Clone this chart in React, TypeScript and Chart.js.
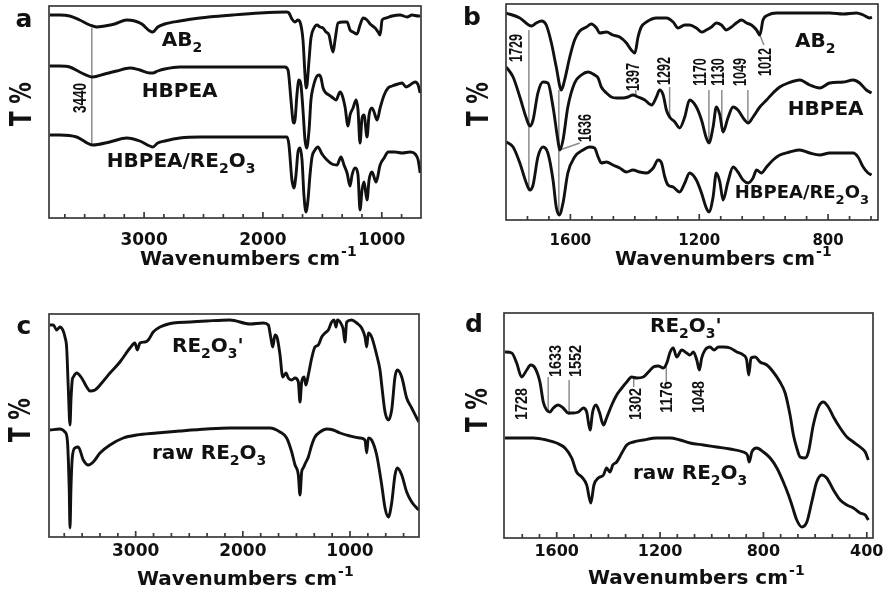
import React, { useEffect, useRef } from 'react';
import { Chart, registerables } from 'chart.js';
Chart.register(...registerables);

type P = [number, number];

// ---------- Panel a (wavenumber, relative transmittance) ----------
const aAB2: P[] = [[3794,203],[3710,203],[3626,202],[3542,198],[3457,193],[3399,191],[3331,192],[3247,194],[3146,198],[3078,197],[3019,194],[2952,187],[2927,186],[2885,191],[2826,194],[2699,197],[2531,200],[2253,203],[2025,205],[1798,206],[1781,205],[1756,199],[1730,196],[1705,198],[1688,196],[1663,178],[1646,143],[1638,130],[1629,133],[1612,158],[1596,180],[1570,190],[1545,193],[1520,191],[1494,190],[1469,186],[1444,183],[1427,173],[1410,166],[1393,178],[1368,195],[1326,196],[1292,196],[1267,188],[1242,186],[1208,184],[1183,193],[1157,200],[1124,198],[1098,194],[1056,190],[1031,186],[1014,183],[997,198],[964,200],[913,202],[846,203],[787,201],[745,203],[694,202],[677,202]];
const aHBPEA: P[] = [[3794,152],[3710,152],[3626,151],[3542,146],[3432,141],[3331,144],[3230,147],[3120,150],[3036,148],[2952,145],[2927,145],[2885,147],[2826,149],[2699,151],[2531,151],[2110,151],[1815,151],[1789,148],[1764,118],[1747,97],[1737,95],[1728,100],[1714,123],[1697,138],[1680,133],[1663,108],[1646,78],[1632,70],[1612,88],[1596,118],[1579,130],[1545,142],[1528,143],[1511,140],[1494,130],[1469,125],[1444,123],[1410,120],[1385,118],[1351,126],[1334,123],[1309,111],[1284,92],[1267,103],[1242,110],[1216,118],[1200,108],[1183,75],[1166,100],[1149,103],[1124,81],[1107,103],[1082,110],[1065,106],[1039,98],[1014,110],[980,123],[947,130],[913,132],[863,134],[829,135],[795,131],[762,133],[719,136],[694,133],[677,125]];
const aHBPEA_RE: P[] = [[3794,83],[3710,83],[3567,81],[3432,73],[3289,76],[3146,80],[3036,77],[2952,72],[2927,71],[2885,75],[2826,77],[2699,80],[2531,81],[2110,81],[1798,81],[1781,73],[1756,38],[1739,30],[1722,43],[1705,66],[1688,70],[1671,58],[1655,23],[1638,6],[1621,18],[1604,43],[1587,61],[1562,68],[1537,71],[1503,64],[1461,58],[1419,54],[1377,53],[1343,61],[1318,53],[1292,45],[1267,32],[1250,43],[1225,50],[1200,43],[1183,8],[1166,28],[1149,36],[1124,18],[1107,38],[1082,46],[1048,36],[1014,53],[980,60],[947,66],[888,66],[829,65],[762,66],[719,64],[694,58],[677,45]];

// ---------- Panel b ----------
const bAB2: P[] = [[1799,207],[1757,202],[1721,194],[1706,197],[1690,199],[1675,195],[1659,177],[1644,153],[1628,130],[1618,140],[1602,163],[1587,180],[1571,189],[1550,193],[1535,196],[1519,192],[1509,187],[1488,188],[1468,185],[1447,183],[1426,177],[1411,170],[1400,167],[1390,183],[1380,193],[1364,198],[1333,202],[1302,202],[1281,198],[1266,192],[1245,195],[1230,195],[1209,192],[1193,188],[1178,190],[1162,193],[1147,197],[1131,195],[1116,190],[1100,193],[1085,197],[1069,200],[1053,197],[1038,195],[1022,190],[1012,185],[1002,200],[986,205],[960,207],[919,207],[878,207],[836,207],[795,207],[753,206],[712,207],[691,205],[671,202],[664,203]];
const bHBPEA: P[] = [[1799,153],[1778,143],[1757,123],[1737,102],[1726,94],[1716,100],[1701,127],[1685,138],[1670,137],[1654,113],[1639,80],[1633,70],[1623,80],[1608,113],[1587,137],[1566,145],[1545,148],[1525,145],[1514,142],[1504,133],[1488,127],[1473,123],[1457,122],[1437,122],[1421,123],[1406,125],[1390,123],[1369,120],[1348,115],[1333,123],[1323,130],[1312,125],[1302,110],[1292,103],[1276,98],[1261,92],[1245,103],[1230,120],[1209,113],[1193,100],[1178,82],[1170,77],[1157,93],[1147,113],[1136,105],[1126,88],[1111,102],[1095,113],[1080,110],[1059,100],[1048,97],[1033,103],[1012,113],[991,120],[971,127],[950,133],[924,137],[888,140],[857,135],[826,132],[795,137],[753,138],[722,140],[702,137],[681,130],[665,127]];
const bHBPEA_RE: P[] = [[1799,78],[1778,73],[1757,57],[1737,37],[1726,30],[1716,35],[1701,63],[1685,73],[1670,67],[1654,40],[1644,13],[1635,5],[1623,17],[1608,47],[1587,63],[1561,70],[1540,73],[1525,72],[1514,63],[1504,57],[1488,58],[1468,55],[1447,52],[1426,48],[1406,50],[1385,48],[1364,47],[1343,52],[1328,60],[1317,57],[1307,43],[1297,35],[1281,33],[1261,28],[1245,37],[1230,47],[1209,40],[1193,27],[1178,12],[1170,8],[1157,23],[1147,47],[1136,38],[1126,20],[1111,38],[1095,53],[1080,48],[1064,40],[1048,37],[1033,42],[1022,50],[1007,47],[991,53],[971,60],[950,65],[919,68],[888,70],[857,67],[826,65],[795,67],[753,67],[722,67],[707,63],[691,53],[676,47],[665,45]];

// ---------- Panel c ----------
const cRE: P[] = [[3800,212],[3769,212],[3737,207],[3707,210],[3676,206],[3660,200],[3644,189],[3629,149],[3613,112],[3604,137],[3592,157],[3582,160],[3551,164],[3504,159],[3457,150],[3427,146],[3380,147],[3317,154],[3240,164],[3147,175],[3053,189],[3007,194],[2985,187],[2960,194],[2913,195],[2882,197],[2836,205],[2773,210],[2649,214],[2493,215],[2337,216],[2120,217],[1933,213],[1809,214],[1762,212],[1740,200],[1721,190],[1700,202],[1679,199],[1653,182],[1628,160],[1597,164],[1576,159],[1544,157],[1513,159],[1482,155],[1467,135],[1451,155],[1429,160],[1411,152],[1389,162],[1357,179],[1327,190],[1296,192],[1264,200],[1233,204],[1202,207],[1171,215],[1149,217],[1130,210],[1118,217],[1077,212],[1062,207],[1047,195],[1031,215],[984,217],[937,214],[891,209],[860,200],[844,190],[829,204],[798,200],[751,182],[720,167],[704,152],[673,125],[642,117],[611,127],[580,160],[558,167],[517,160],[471,139],[424,129],[377,119],[356,115]];
const cRaw: P[] = [[3800,107],[3707,108],[3660,105],[3638,97],[3620,47],[3613,9],[3604,49],[3592,79],[3567,89],[3536,90],[3489,77],[3442,72],[3396,75],[3333,84],[3240,92],[3116,99],[2991,102],[2804,104],[2587,106],[2337,108],[2120,109],[1933,109],[1747,109],[1653,105],[1591,99],[1544,85],[1513,72],[1482,62],[1467,42],[1451,65],[1436,69],[1411,75],[1389,80],[1357,92],[1327,100],[1280,105],[1217,108],[1156,107],[1093,104],[1000,101],[907,99],[860,97],[844,84],[829,99],[798,97],[751,82],[704,52],[673,29],[642,20],[611,34],[580,62],[558,69],[517,62],[471,45],[424,35],[377,29],[356,27]];

// ---------- Panel d ----------
const dRE: P[] = [[1800,186],[1774,185],[1755,175],[1736,161],[1716,168],[1701,173],[1684,170],[1665,156],[1652,136],[1639,128],[1626,126],[1613,130],[1594,133],[1575,130],[1555,125],[1536,125],[1516,126],[1497,130],[1484,126],[1471,108],[1461,126],[1448,133],[1435,126],[1419,113],[1407,120],[1387,133],[1368,143],[1348,150],[1329,156],[1310,161],[1290,160],[1265,161],[1245,166],[1226,171],[1207,172],[1187,170],[1174,175],[1161,186],[1149,190],[1136,181],[1116,188],[1097,185],[1084,183],[1071,186],[1058,178],[1048,168],[1039,180],[1026,188],[1007,191],[991,188],[974,191],[955,191],[929,190],[903,186],[878,183],[865,178],[857,163],[848,180],[832,181],[813,176],[787,173],[762,166],[736,156],[716,145],[697,123],[684,103],[671,90],[658,81],[639,80],[626,86],[607,113],[587,131],[568,136],[549,131],[529,121],[503,110],[477,101],[452,96],[426,91],[406,86],[394,78]];
const dRaw: P[] = [[1800,100],[1742,100],[1691,100],[1639,98],[1600,95],[1568,90],[1542,80],[1523,66],[1503,61],[1484,53],[1468,35],[1456,53],[1439,60],[1419,63],[1407,70],[1394,66],[1383,73],[1368,76],[1348,85],[1329,93],[1303,96],[1265,98],[1213,100],[1161,100],[1123,98],[1084,95],[1033,93],[981,91],[929,89],[878,86],[862,83],[855,76],[845,86],[826,90],[800,86],[774,80],[748,70],[723,56],[703,43],[690,33],[671,18],[652,11],[632,16],[613,36],[594,56],[574,63],[555,60],[529,48],[503,38],[477,33],[452,30],[426,25],[406,23],[394,18]];

// ---------- layout / decoration config ----------
interface Ann { text: string; at: P; lines?: [number, number, number, number][] }
interface CurveLabel { text: string; at: P; size: number }
interface Panel {
  letter: string; left: number; top: number; width: number; height: number;
  frame: [number, number, number, number];
  xMin: number; xMax: number; major: number; yMax: number;
  series: P[][]; labels: CurveLabel[]; anns: Ann[]; annSize: number; annScale: number;
  tickPad: number; tickSize: number; titleAt: P; tAt: P; letterAt: P;
}

const PANELS: Panel[] = [
  {
    letter: 'a', left: 0, top: 0, width: 445, height: 290, frame: [49, 6, 421, 218],
    xMin: 670, xMax: 3800, major: 1000, yMax: 212,
    series: [aAB2, aHBPEA, aHBPEA_RE],
    labels: [
      { text: 'AB_2', at: [2851, 179], size: 20 },
      { text: 'HBPEA', at: [3019, 128], size: 20 },
      { text: 'HBPEA/RE_2O_3', at: [3314, 58], size: 20 },
    ],
    anns: [{ text: '3440', at: [3542, 120], lines: [[3440, 190, 3440, 73]] }],
    annSize: 18, annScale: 0.75,
    tickPad: 12, tickSize: 17, titleAt: [140, 258], tAt: [22, 104], letterAt: [24, 20],
  },
  {
    letter: 'b', left: 445, top: 0, width: 446, height: 290, frame: [506, 4, 878, 220],
    xMin: 645, xMax: 1800, major: 400, yMax: 216,
    series: [bAB2, bHBPEA, bHBPEA_RE],
    labels: [
      { text: 'AB_2', at: [903, 180], size: 20 },
      { text: 'HBPEA', at: [925, 112], size: 20 },
      { text: 'HBPEA/RE_2O_3', at: [1090, 28], size: 18 },
    ],
    anns: [
      { text: '1729', at: [1768, 172], lines: [[1729, 190, 1729, 30]] },
      { text: '1636', at: [1556, 92], lines: [[1636, 130, 1636, 5], [1633, 70, 1571, 77]] },
      { text: '1397', at: [1406, 143], lines: [[1397, 130, 1397, 123]] },
      { text: '1292', at: [1310, 149], lines: [[1292, 133, 1292, 103]] },
      { text: '1170', at: [1198, 148], lines: [[1170, 130, 1170, 77]] },
      { text: '1130', at: [1142, 148], lines: [[1130, 130, 1130, 88]] },
      { text: '1049', at: [1074, 148], lines: [[1049, 130, 1049, 98]] },
      { text: '1012', at: [997, 158], lines: [[1012, 185, 999, 175]] },
    ],
    annSize: 18, annScale: 0.7,
    tickPad: 12, tickSize: 15, titleAt: [615, 258], tAt: [479, 104], letterAt: [472, 18],
  },
  {
    letter: 'c', left: 0, top: 290, width: 445, height: 301, frame: [49, 314, 419, 537],
    xMin: 356, xMax: 3809, major: 1000, yMax: 223,
    series: [cRE, cRaw],
    labels: [
      { text: "RE_2O_3'", at: [2661, 192], size: 20 },
      { text: 'raw RE_2O_3', at: [2848, 85], size: 20 },
    ],
    anns: [], annSize: 17, annScale: 0.85,
    tickPad: 4, tickSize: 17, titleAt: [137, 578], tAt: [21, 420], letterAt: [24, 327],
  },
  {
    letter: 'd', left: 445, top: 290, width: 446, height: 301, frame: [504, 313, 873, 538],
    xMin: 376, xMax: 1804, major: 400, yMax: 225,
    series: [dRE, dRaw],
    labels: [
      { text: "RE_2O_3'", at: [1239, 213], size: 20 },
      { text: 'raw RE_2O_3', at: [1305, 66], size: 20 },
    ],
    anns: [
      { text: '1728', at: [1736, 134] },
      { text: '1633', at: [1607, 177], lines: [[1633, 161, 1633, 126]] },
      { text: '1552', at: [1529, 177], lines: [[1552, 158, 1552, 123]] },
      { text: '1302', at: [1297, 134], lines: [[1302, 161, 1302, 151]] },
      { text: '1176', at: [1174, 141], lines: [[1176, 175, 1176, 156]] },
      { text: '1048', at: [1052, 141] },
    ],
    annSize: 17, annScale: 0.85,
    tickPad: 4, tickSize: 16, titleAt: [588, 577], tAt: [478, 410], letterAt: [474, 325],
  },
];

const FONT = '"DejaVu Sans", "Liberation Sans", sans-serif';
const XH = 40;

function richParts(s: string) {
  const parts: { t: string; sub: boolean }[] = [];
  for (let i = 0; i < s.length; i++) {
    if (s[i] === '_' && i + 1 < s.length) { parts.push({ t: s[i + 1], sub: true }); i++; }
    else {
      const last = parts[parts.length - 1];
      if (last && !last.sub) last.t += s[i]; else parts.push({ t: s[i], sub: false });
    }
  }
  return parts;
}

function drawRich(ctx: CanvasRenderingContext2D, s: string, x: number, cy: number, size: number) {
  const parts = richParts(s);
  const base = cy + size * 0.36;
  const sub = Math.round(size * 0.7);
  let cx = x;
  ctx.textAlign = 'left';
  ctx.textBaseline = 'alphabetic';
  for (const p of parts) {
    ctx.font = `bold ${p.sub ? sub : size}px ${FONT}`;
    ctx.fillText(p.t, cx, p.sub ? base + size * 0.28 : base);
    cx += ctx.measureText(p.t).width;
  }
}

function isMajor(v: number, major: number) {
  return Math.abs(v / major - Math.round(v / major)) < 1e-6;
}

function makeDeco(p: Panel) {
  return {
    id: 'deco_' + p.letter,
    beforeDatasetsDraw(chart: any) {
      const ctx: CanvasRenderingContext2D = chart.ctx;
      const xs = chart.scales.x, ys = chart.scales.y;
      ctx.save();
      ctx.strokeStyle = '#8c8c8c';
      ctx.lineWidth = 1.5;
      for (const a of p.anns) {
        for (const l of a.lines || []) {
          ctx.beginPath();
          ctx.moveTo(xs.getPixelForValue(l[0]), ys.getPixelForValue(l[1]));
          ctx.lineTo(xs.getPixelForValue(l[2]), ys.getPixelForValue(l[3]));
          ctx.stroke();
        }
      }
      ctx.restore();
    },
    afterDraw(chart: any) {
      const ctx: CanvasRenderingContext2D = chart.ctx;
      const { left, right, top, bottom } = chart.chartArea;
      const xs = chart.scales.x, ys = chart.scales.y;
      const ox = p.left, oy = p.top;
      ctx.save();
      ctx.strokeStyle = '#3a3a3a';
      ctx.lineWidth = 1.7;
      ctx.strokeRect(left, top, right - left, bottom - top);
      ctx.beginPath();
      for (const t of xs.ticks) {
        const px = xs.getPixelForValue(t.value);
        if (px <= left + 2 || px >= right - 2) continue;
        const len = isMajor(t.value, p.major) ? 6 : 4;
        ctx.moveTo(px, bottom);
        ctx.lineTo(px, bottom - len);
      }
      ctx.stroke();
      ctx.fillStyle = '#111';
      for (const l of p.labels) {
        drawRich(ctx, l.text, xs.getPixelForValue(l.at[0]), ys.getPixelForValue(l.at[1]), l.size);
      }
      for (const a of p.anns) {
        ctx.save();
        ctx.translate(xs.getPixelForValue(a.at[0]), ys.getPixelForValue(a.at[1]));
        ctx.rotate(-Math.PI / 2);
        ctx.scale(p.annScale, 1);
        ctx.font = `bold ${p.annSize}px "Liberation Sans", Arial, sans-serif`;
        ctx.textAlign = 'center';
        ctx.textBaseline = 'middle';
        ctx.fillText(a.text, 0, 1);
        ctx.restore();
      }
      const tx = p.titleAt[0] - ox, ty = p.titleAt[1] - oy;
      ctx.font = `bold 20px ${FONT}`;
      ctx.textAlign = 'left';
      ctx.textBaseline = 'alphabetic';
      const base = ty + 7.2;
      const main = 'Wavenumbers cm';
      ctx.fillText(main, tx, base);
      const mw = ctx.measureText(main).width;
      ctx.font = `bold 14px ${FONT}`;
      ctx.fillText('-1', tx + mw + 1, base - 9);
      ctx.save();
      ctx.translate(p.tAt[0] - ox, p.tAt[1] - oy);
      ctx.rotate(-Math.PI / 2);
      ctx.scale(0.72, 1);
      ctx.font = `bold 30px ${FONT}`;
      ctx.textAlign = 'center';
      ctx.textBaseline = 'middle';
      ctx.fillText('T %', 0, 1);
      ctx.restore();
      ctx.font = `bold 25px ${FONT}`;
      ctx.textAlign = 'center';
      ctx.textBaseline = 'middle';
      ctx.fillText(p.letter, p.letterAt[0] - ox, p.letterAt[1] - oy);
      ctx.restore();
    },
  };
}

function PanelChart({ p }: { p: Panel }) {
  const ref = useRef<HTMLCanvasElement>(null);
  useEffect(() => {
    const canvas = ref.current;
    if (!canvas) return;
    const step = p.major / 6;
    const tickVals: number[] = [];
    for (let k = Math.ceil(p.xMin / step); k * step < p.xMax; k++) {
      const v = k * step;
      if (v > p.xMin + 5 && v < p.xMax - 5) tickVals.push(v);
    }
    const pad = {
      left: p.frame[0] - p.left,
      right: p.left + p.width - p.frame[2],
      top: p.frame[1] - p.top,
      bottom: p.top + p.height - p.frame[3] - XH,
    };
    const chart = new Chart(canvas, {
      type: 'line',
      data: {
        datasets: p.series.map((s) => ({
          data: s.map(([x, y]) => ({ x, y })),
          borderColor: '#111',
          borderWidth: 2.9,
          pointRadius: 0,
          fill: false,
          cubicInterpolationMode: 'monotone' as const,
        })),
      },
      options: {
        responsive: false,
        animation: false,
        events: [],
        layout: { padding: pad },
        plugins: { legend: { display: false }, tooltip: { enabled: false } },
        scales: {
          x: {
            type: 'linear',
            reverse: true,
            min: p.xMin,
            max: p.xMax,
            afterBuildTicks: (s: any) => { s.ticks = tickVals.map((v) => ({ value: v })); },
            afterFit: (s: any) => { s.height = XH; },
            grid: { display: false, drawTicks: false },
            border: { display: false },
            ticks: {
              autoSkip: false,
              maxRotation: 0,
              padding: p.tickPad,
              color: '#111',
              font: { family: FONT, weight: 'bold', size: p.tickSize },
              callback: (v: any) => (isMajor(Number(v), p.major) ? String(Math.round(Number(v))) : ''),
            },
          },
          y: { type: 'linear', display: false, min: 0, max: p.yMax },
        },
      } as any,
      plugins: [makeDeco(p)],
    });
    return () => chart.destroy();
  }, [p]);
  return (
    <canvas
      ref={ref}
      width={p.width}
      height={p.height}
      style={{ position: 'absolute', left: p.left, top: p.top, width: p.width, height: p.height }}
    />
  );
}

export default function App() {
  return (
    <div style={{ position: 'absolute', left: 0, top: 0, width: 891, height: 591, background: '#fff', overflow: 'hidden' }}>
      {PANELS.map((p) => (
        <PanelChart key={p.letter} p={p} />
      ))}
    </div>
  );
}
